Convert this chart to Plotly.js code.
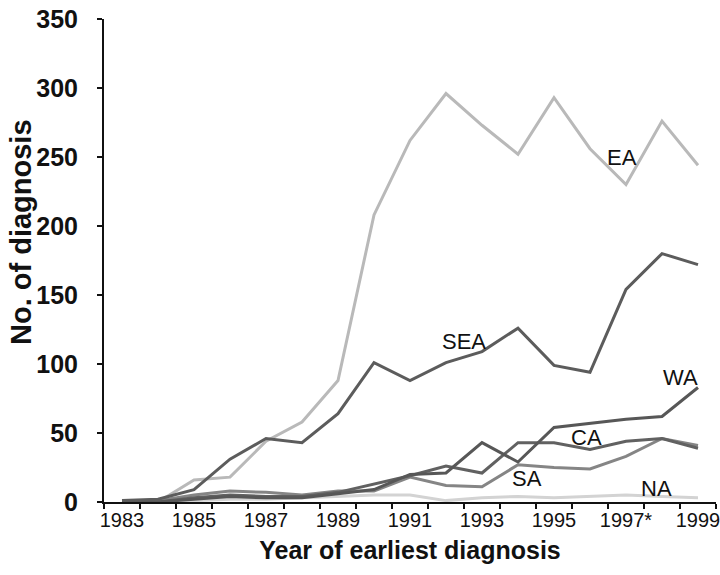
<!DOCTYPE html>
<html>
<head>
<meta charset="utf-8">
<script src="https://cdn.plot.ly/plotly-3.0.1.min.js"></script>
<style>html,body{margin:0;padding:0;background:#fff;}#chart{width:720px;height:575px;}</style>
</head>
<body>
<div id="chart"></div>
<script>
const years = [1983,1984,1985,1986,1987,1988,1989,1990,1991,1992,1993,1994,1995,1996,1997,1998,1999];
const EA  = [1,0,16,18,44,58,88,208,262,296,273,252,293,256,230,276,244];
const SEA = [1,2,9,31,46,43,64,101,88,101,109,126,99,94,154,180,172];
const WA  = [0,0,2,4,3,3,6,9,20,21,43,29,54,57,60,62,83];
const CA  = [0,0,3,5,4,4,7,13,19,26,21,43,43,38,44,46,39];
const SA  = [0,1,5,8,7,5,8,8,18,12,11,27,25,24,33,46,41];
const NA  = [0,0,1,2,2,3,4,5,5,1,3,4,3,4,5,4,3];
const seriesNames = ['EA','SEA','WA','CA','SA','NA'];
const tickYears = [1983,1985,1987,1989,1991,1993,1995,1997,1999];
const tickLabels = ['1983','1985','1987','1989','1991','1993','1995','1997*','1999'];
const boundaries = [1982.5,1983.5,1984.5,1985.5,1986.5,1987.5,1988.5,1989.5,1990.5,1991.5,1992.5,1993.5,1994.5,1995.5,1996.5,1997.5,1998.5,1999.5];
const yTicks = [0,50,100,150,200,250,300,350];
// label anchor points (data coordinates)
const labelX = [1996.9,1992.5,1998.5,1995.9,1994.25,1997.85];
const labelY = [250,116,90,47,17,10];

const colors = ['#b9b9b9','#5c5c5c','#575757','#616161','#858585','#d3d3d3'];
const data = [EA,SEA,WA,CA,SA,NA];
const order = [5,0,4,3,2,1];
const traces = order.map(i => ({
  x: years, y: data[i], name: seriesNames[i], type: 'scatter', mode: 'lines',
  line: {color: colors[i], width: 3}, xaxis: 'x', yaxis: 'y', hoverinfo: 'skip'
}));
const font = "Arial, 'Liberation Sans', Helvetica, sans-serif";
const annotations = seriesNames.map((n,i) => ({
  x: labelX[i], y: labelY[i], xref: 'x', yref: 'y', text: n, showarrow: false,
  font: {family: font, size: 22, color: '#111'}
}));
annotations.push({
  x: (21-104)/612, y: (502-232)/483, xref: 'paper', yref: 'paper', xanchor: 'center', yanchor: 'middle',
  text: 'No. of diagnosis', showarrow: false,
  textangle: -90, font: {family: font, size: 29, color: '#111', weight: 'bold'}
});
const layout = {
  width: 720, height: 575,
  margin: {l: 104, r: 4, t: 19, b: 73},
  paper_bgcolor: '#fff', plot_bgcolor: '#fff',
  showlegend: false,
  font: {family: font, color: '#111'},
  xaxis: {
    range: [1982.5, 1999.5], tickmode: 'array', tickvals: boundaries, showticklabels: false,
    ticks: 'outside', ticklen: 5, tickwidth: 1.5, tickcolor: '#111',
    showline: true, linecolor: '#111', linewidth: 2, showgrid: false, zeroline: false,
    fixedrange: true
  },
  xaxis2: {
    overlaying: 'x', anchor: 'y', side: 'bottom', range: [1982.5, 1999.5],
    tickmode: 'array', tickvals: tickYears, ticktext: tickLabels, ticks: '',
    tickfont: {family: font, size: 20, color: '#111'}, ticklabelstandoff: 4,
    ticklabeloverflow: 'allow',
    showline: false, showgrid: false, zeroline: false,
    title: {text: 'Year of earliest diagnosis', font: {family: font, size: 25, color: '#111', weight: 'bold'}, standoff: 11}
  },
  yaxis: {
    range: [0, 350], tickmode: 'array', tickvals: yTicks, ticks: 'outside', ticklen: 5, tickwidth: 1.5,
    tickcolor: '#111', tickfont: {family: font, size: 25, color: '#111', weight: 'bold'},
    ticklabelstandoff: 14,
    showline: true, linecolor: '#111', linewidth: 2, showgrid: false, zeroline: false
  },
  annotations: annotations
};
// invisible trace so that the label axis (xaxis2) is drawn
traces.push({x: [1983], y: [0], xaxis: 'x2', yaxis: 'y', mode: 'markers', marker: {opacity: 0}, hoverinfo: 'skip', showlegend: false});
Plotly.newPlot('chart', traces, layout, {displayModeBar: false, staticPlot: true});
</script>
</body>
</html>
